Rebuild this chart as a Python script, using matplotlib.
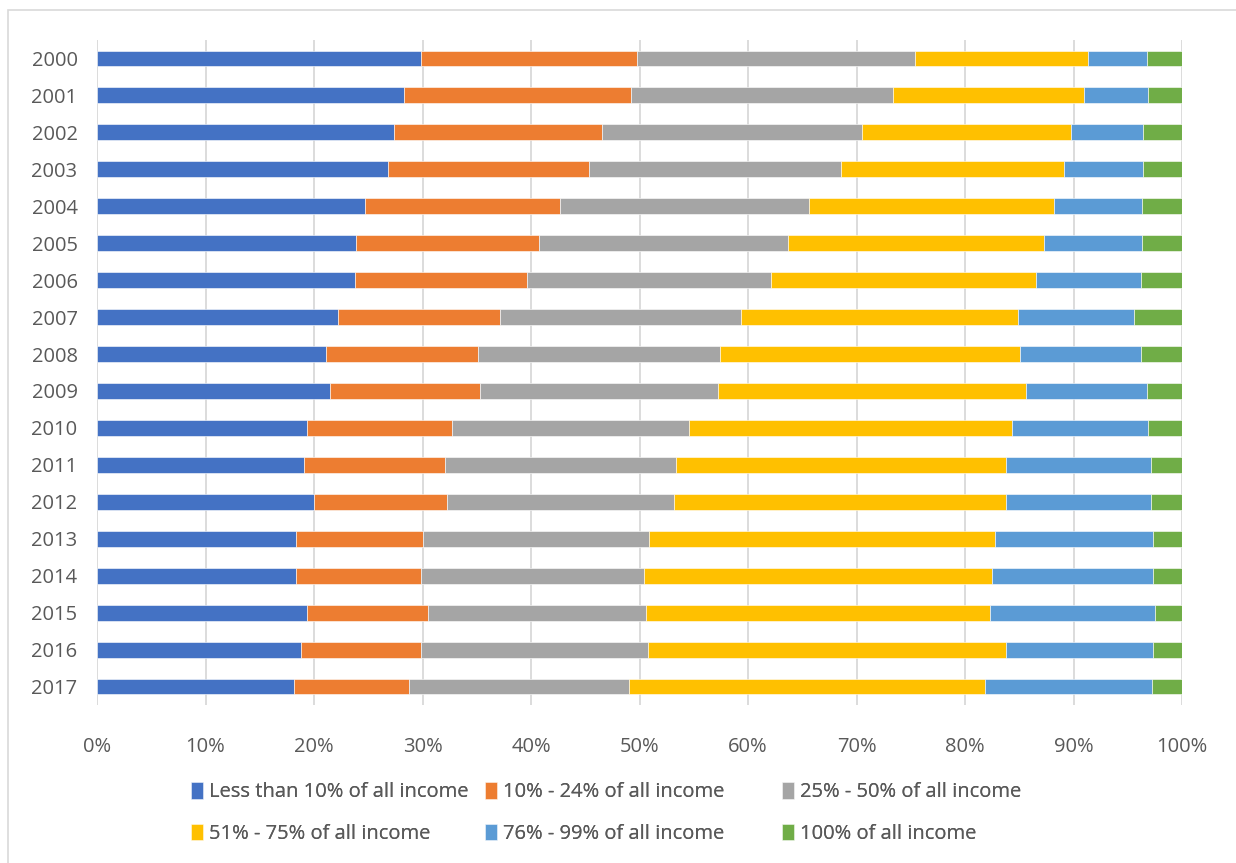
import matplotlib
matplotlib.use("Agg")
import matplotlib.pyplot as plt
import numpy as np
from matplotlib.patches import Rectangle

years = [str(y) for y in range(2000, 2018)]
series_names = ["Less than 10% of all income", "10% - 24% of all income",
                "25% - 50% of all income", "51% - 75% of all income",
                "76% - 99% of all income", "100% of all income"]
colors = ["#4472C4", "#ED7D31", "#A5A5A5", "#FFC000", "#5B9BD5", "#70AD47"]

less_10 = [29.9, 28.3, 27.4, 26.8, 24.7, 23.9, 23.8, 22.2, 21.1, 21.5, 19.4, 19.1, 20.0, 18.3, 18.3, 19.4, 18.8, 18.2]
p10_24 = [19.9, 20.9, 19.1, 18.5, 18.0, 16.8, 15.8, 14.9, 14.0, 13.8, 13.3, 13.0, 12.3, 11.7, 11.6, 11.1, 11.1, 10.6]
p25_50 = [25.6, 24.2, 24.0, 23.3, 22.9, 23.0, 22.5, 22.3, 22.3, 21.9, 21.9, 21.3, 20.9, 20.9, 20.5, 20.1, 20.9, 20.2]
p51_75 = [15.9, 17.6, 19.3, 20.5, 22.6, 23.6, 24.4, 25.5, 27.7, 28.4, 29.7, 30.4, 30.6, 31.9, 32.1, 31.7, 33.0, 32.8]
p76_99 = [5.5, 5.9, 6.6, 7.3, 8.1, 9.0, 9.7, 10.7, 11.1, 11.2, 12.6, 13.3, 13.3, 14.5, 14.8, 15.2, 13.5, 15.4]
p100 = [3.2, 3.1, 3.6, 3.6, 3.7, 3.7, 3.8, 4.4, 3.8, 3.2, 3.1, 2.9, 2.9, 2.7, 2.7, 2.5, 2.7, 2.8]

xticks = [0, 10, 20, 30, 40, 50, 60, 70, 80, 90, 100]
xtick_labels = [f"{t}%" for t in xticks]

data = np.array([less_10, p10_24, p25_50, p51_75, p76_99, p100], dtype=float)
data = data / data.sum(axis=0) * 100

plt.rcParams['font.family'] = ['Open Sans', 'DejaVu Sans']
W, H = 1236, 863
fig = plt.figure(figsize=(W / 100, H / 100), dpi=100)
fig.patches.append(Rectangle((8 / W, -0.1), 1.2, 1 - 10 / H + 0.1, transform=fig.transFigure,
                             fill=False, edgecolor="#d9d9d9", linewidth=1.2))

ax = fig.add_axes([97 / W, 1 - 705 / H, (1182 - 97) / W, (705 - 40) / H])
y = np.arange(len(years))
left = np.zeros(len(years))
handles = []
for vals, name, c in zip(data, series_names, colors):
    h = ax.barh(y, vals, left=left, height=0.43, color=c, edgecolor="white", linewidth=0.4, label=name, zorder=3)
    handles.append(h)
    left += vals

ax.set_xlim(0, 100)
ax.set_ylim(len(years) - 0.5, -0.5)
ax.set_xticks(xticks)
ax.set_xticklabels(xtick_labels)
ax.set_yticks(y)
ax.set_yticklabels(years)
ax.grid(axis='x', color="#d9d9d9", linewidth=1.3, zorder=0)
for s in ax.spines.values():
    s.set_visible(False)
ax.tick_params(axis='both', length=0, labelsize=14.5, labelcolor="#595959")
ax.tick_params(axis='x', pad=23)
ax.tick_params(axis='y', pad=14)

# legend: two rows of three, placed column by column
col_x = [177, 471, 768]
for ci, cx in enumerate(col_x):
    idx = [ci, ci + 3]
    leg = fig.legend([handles[i] for i in idx], [series_names[i] for i in idx],
                     loc='upper left', bbox_to_anchor=(cx / W, 1 - 768 / H),
                     ncol=1, frameon=False, fontsize=14.5, labelcolor="#595959",
                     handlelength=0.6, handleheight=0.9, handletextpad=0.3,
                     labelspacing=1.05, borderpad=0.2)
    fig.add_artist(leg)

fig.savefig("out.png", dpi=100, facecolor="white")
